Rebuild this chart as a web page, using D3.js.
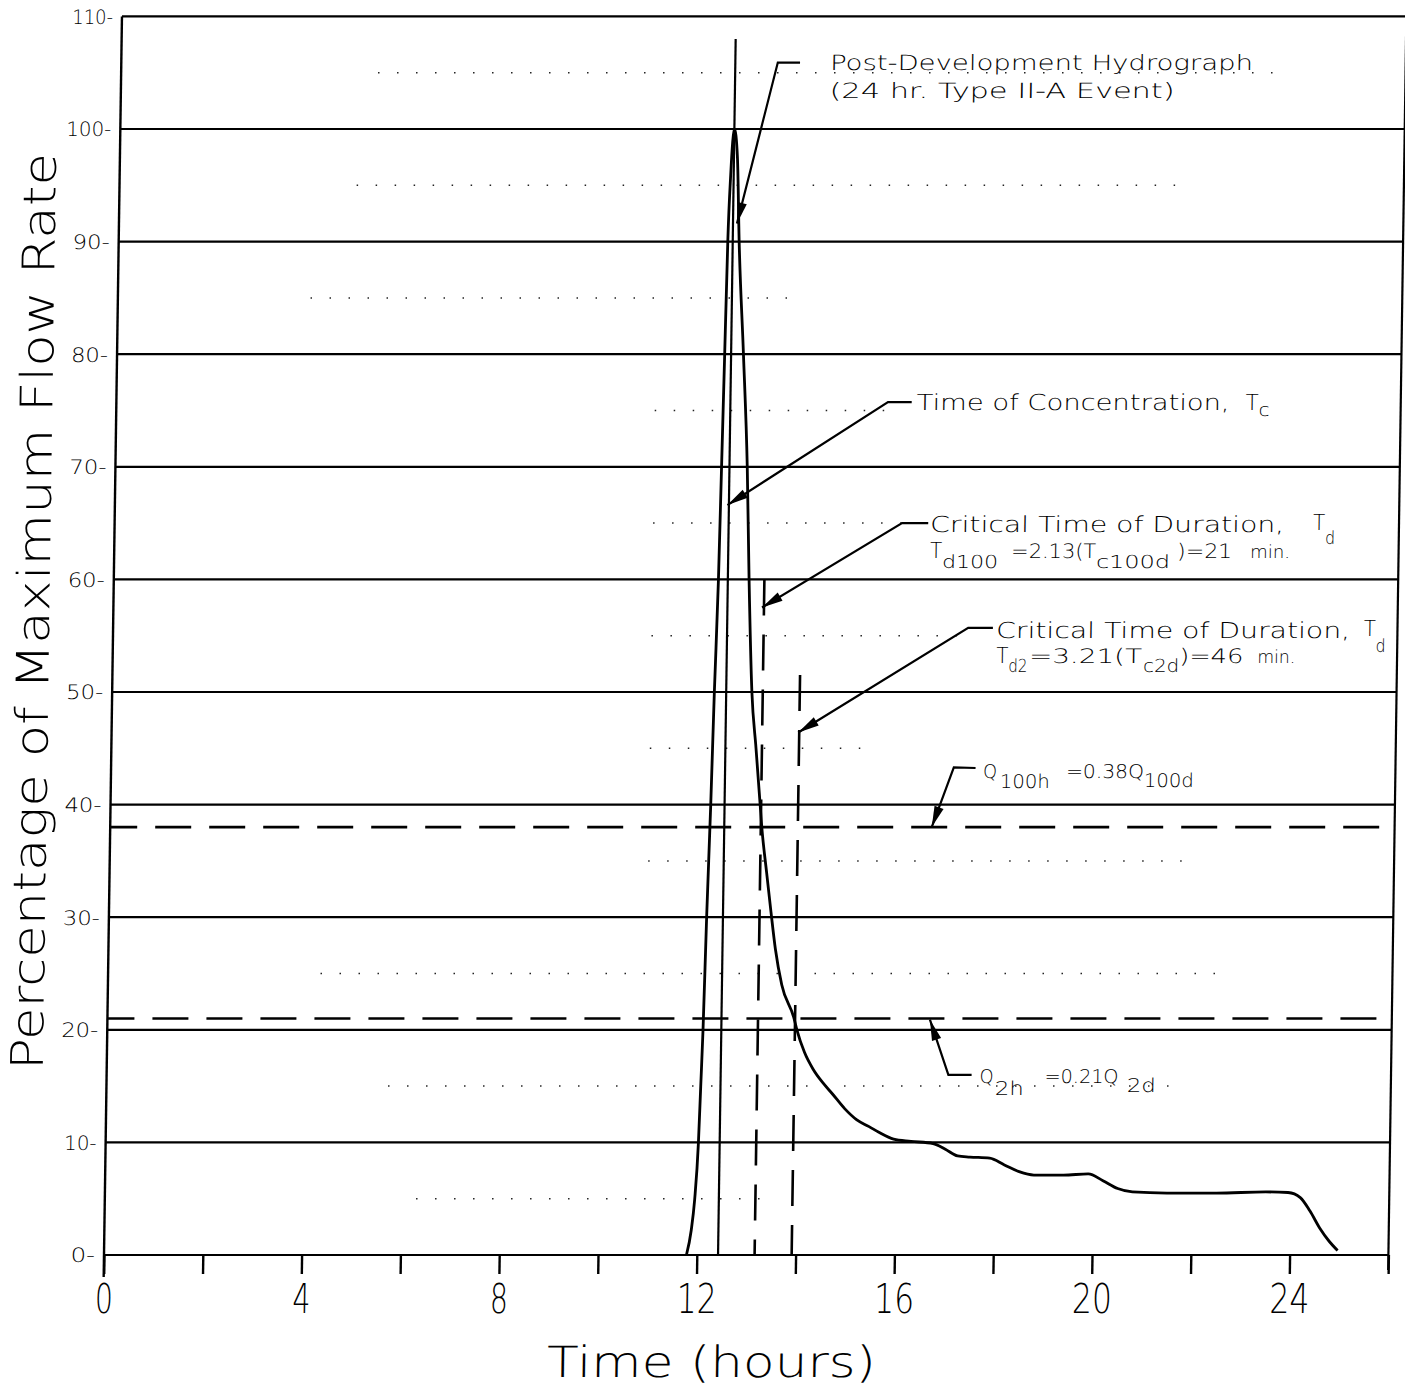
<!DOCTYPE html>
<html><head><meta charset="utf-8">
<script src="https://cdn.jsdelivr.net/npm/d3@7"></script>
<style>
html,body{margin:0;padding:0;background:#fff;}
svg{display:block;}
text{font-family:"DejaVu Sans","Liberation Sans",sans-serif;font-weight:300;fill:#000;}
</style></head><body>
<svg id="chart" width="1405" height="1389"></svg>
<script>
// ---------------- data ----------------
const hydroTime = [11.79,11.88,11.94,12.00,12.03,12.06,12.10,12.15,12.19,12.24,12.27,12.30,12.33,12.37,12.43,
  12.50,12.56,12.68,12.79,12.86,12.95,13.05,13.15,13.19,13.30,13.40,13.50,13.64,13.90,13.96,
  14.12,14.30,14.50,14.70,14.95,15.20,15.45,15.65,15.95,16.30,16.75,17.00,17.25,17.50,17.90,
  18.20,18.50,18.80,19.40,19.90,20.20,20.50,20.80,21.50,22.50,23.50,23.95,24.20,24.40,24.60,24.80,24.97];
const hydroPct = [0,2.2,4.9,10,15,20,30,40,50,60,70,80,90,96,100,
  97.5,90,80,70,60,50,45,40,38,34,30.5,27.2,24,21,20,
  18,16.5,15.3,14.3,13.0,12.0,11.4,10.9,10.3,10.1,9.9,9.4,8.8,8.7,8.6,
  8.0,7.4,7.1,7.1,7.2,6.6,5.9,5.6,5.5,5.5,5.6,5.55,5.1,3.9,2.4,1.2,0.4];

const yTickValues = [0,10,20,30,40,50,60,70,80,90,100,110];
const xTickValues = [0,2,4,6,8,10,12,14,16,18,20,22,24,26];
const xTickLabels = [0,4,8,12,16,20,24];

// faint dotted half-grid rows (percent) and their extent in hours
const halfGridPct  = [105,95,85,75,65,55,45,35,25,15,5];
const halfGridFrom = [5.2,4.8,3.9,10.9,10.9,10.9,10.9,10.9,4.3,5.7,6.3];
const halfGridTo   = [23.4,21.6,13.8,15.6,16.1,17.1,15.3,22.0,22.5,21.8,13.6];

const peakLineTime = 12.43, peakLineTop = 108;          // solid vertical (Tc)
const durationTimes = [13.17, 13.92];                     // dashed verticals (Td100, Td2)
const durationTops  = [60, 51.5];
const ratioLevels   = [38, 21];                           // dashed horizontals (Q100h, Q2h)

// annotation leaders: arrow tip, elbow, end of the short horizontal
const leaderTipT    = [12.51, 12.40, 13.13, 13.90, 16.63, 16.65];
const leaderTipP    = [91.6, 66.6, 57.5, 46.4, 38.0, 20.9];
const leaderElbowT  = [13.29, 15.62, 15.94, 17.31, 17.06, 17.04];
const leaderElbowP  = [105.9, 75.75, 65.0, 55.7, 43.3, 16.0];
const leaderEndT    = [13.74, 16.10, 16.47, 17.81, 17.50, 17.51];
const leaderEndP    = [105.9, 75.75, 65.0, 55.7, 43.25, 16.0];

const xTitle = "Time (hours)";
const yTitle = "Percentage of Maximum Flow Rate";

// ---------------- drawing ----------------
const svg = d3.select("#chart");
const x = d3.scaleLinear().domain([0, 26]).range([104, 104 + 26 * 49.4]);
const y = d3.scaleLinear().domain([0, 110]).range([1255, 16.4]);

// the scanned original is slightly sheared; reproduce it
const k = 0.0145;
const g = svg.append("g")
  .attr("transform", `translate(${k * y(0)},0) skewX(${-Math.atan(k) * 180 / Math.PI})`);

// dotted half grid
g.append("g").selectAll("line").data(halfGridPct).join("line")
  .attr("x1", (d, i) => x(halfGridFrom[i])).attr("x2", (d, i) => x(halfGridTo[i]))
  .attr("y1", d => y(d)).attr("y2", d => y(d))
  .attr("stroke", "#222").attr("stroke-width", 1.5).attr("stroke-dasharray", "1.5,17.5");

// solid grid lines
g.append("g").selectAll("line").data(yTickValues).join("line")
  .attr("x1", x(0)).attr("x2", x(26)).attr("y1", d => y(d)).attr("y2", d => y(d))
  .attr("stroke", "#000").attr("stroke-width", 2.2);

// frame verticals
g.append("line").attr("x1", x(0)).attr("x2", x(0)).attr("y1", y(110)).attr("y2", y(0) + 22)
  .attr("stroke", "#000").attr("stroke-width", 2.4);
g.append("line").attr("x1", x(26)).attr("x2", x(26)).attr("y1", y(110)).attr("y2", y(0) + 15)
  .attr("stroke", "#000").attr("stroke-width", 2.2);

// x axis ticks & labels
const xAxis = g.append("g").attr("transform", `translate(0,${y(0)})`)
  .call(d3.axisBottom(x).tickValues(xTickValues).tickSize(19).tickPadding(10)
    .tickFormat(d => xTickLabels.includes(d) ? String(d) : ""));
xAxis.select(".domain").remove();
xAxis.selectAll(".tick line").attr("stroke", "#000").attr("stroke-width", 2.4);
xAxis.selectAll(".tick text")
  .attr("font-size", 41).attr("font-family", '"DejaVu Sans",sans-serif').attr("font-weight", 300)
  .attr("fill", "#000")
  .each(function (d) {
    const s = String(d);
    if (xTickLabels.includes(d)) d3.select(this).attr("textLength", s.length === 1 ? 18 : 40).attr("lengthAdjust", "spacingAndGlyphs");
  });

// y axis labels
const yAxis = g.append("g").attr("transform", `translate(${x(0)},0)`)
  .call(d3.axisLeft(y).tickValues(yTickValues).tickSize(0).tickPadding(9).tickFormat(d => d + "-"));
yAxis.select(".domain").remove();
yAxis.selectAll(".tick text")
  .attr("font-size", 20).attr("font-family", '"DejaVu Sans",sans-serif').attr("font-weight", 300)
  .attr("fill", "#000").attr("dy", "0.34em")
  .each(function (d) {
    const w = String(d).split("").reduce((a, c) => a + (c === "1" ? 8 : 12.5), 0) + 12;
    d3.select(this).attr("textLength", w).attr("lengthAdjust", "spacingAndGlyphs");
  });

// dashed horizontals
g.append("g").selectAll("line").data(ratioLevels).join("line")
  .attr("x1", x(0)).attr("x2", x(26)).attr("y1", d => y(d)).attr("y2", d => y(d))
  .attr("stroke", "#000").attr("stroke-width", 2.6)
  .attr("stroke-dasharray", "36,18").attr("stroke-dashoffset", 9);

// dashed verticals
g.append("g").selectAll("line").data(durationTimes).join("line")
  .attr("x1", d => x(d)).attr("x2", d => x(d))
  .attr("y1", (d, i) => y(durationTops[i])).attr("y2", y(0))
  .attr("stroke", "#000").attr("stroke-width", 2.6).attr("stroke-dasharray", "36,19");

// solid vertical at peak
g.append("line").attr("x1", x(peakLineTime)).attr("x2", x(peakLineTime))
  .attr("y1", y(peakLineTop)).attr("y2", y(0))
  .attr("stroke", "#000").attr("stroke-width", 2.2);

// hydrograph
const pts = hydroTime.map((t, i) => [t, hydroPct[i]]);
g.append("path").datum(pts)
  .attr("d", d3.line().x(d => x(d[0])).y(d => y(d[1])).curve(d3.curveMonotoneX))
  .attr("fill", "none").attr("stroke", "#000").attr("stroke-width", 2.8).attr("stroke-linejoin", "round");

// leaders with arrowheads
leaderTipT.forEach((t, i) => {
  const tip = [x(t), y(leaderTipP[i])];
  const elb = [x(leaderElbowT[i]), y(leaderElbowP[i])];
  const end = [x(leaderEndT[i]), y(leaderEndP[i])];
  g.append("path").attr("d", d3.line()([tip, elb, end]))
    .attr("fill", "none").attr("stroke", "#000").attr("stroke-width", 2.2);
  const dx = elb[0] - tip[0], dy = elb[1] - tip[1], L = Math.hypot(dx, dy);
  const ux = dx / L, uy = dy / L, len = 21, hw = 4.8;
  const bx = tip[0] + ux * len, by = tip[1] + uy * len;
  g.append("path")
    .attr("d", `M${tip[0]},${tip[1]}L${bx - uy * hw},${by + ux * hw}L${bx + uy * hw},${by - ux * hw}Z`)
    .attr("fill", "#000");
});

// annotation text pieces: [leader index, text, dx, dy, width, size]
const annotText = [
  [0, "Post-Development Hydrograph", 30, 7.4, 423, 21],
  [0, "(24 hr. Type II-A Event)", 30, 35, 345, 21],
  [1, "Time of Concentration,", 5, 8, 313, 22],
  [1, "T", 334, 8, 13, 22],
  [1, "c", 347, 14, 11, 18],
  [2, "Critical Time of Duration,", 2, 9, 354, 22],
  [2, "T", 385, 7, 12, 22],
  [2, "d", 397, 21, 10, 18],
  [2, "T", 2.4, 35, 12, 22],
  [2, "d100", 14.5, 45, 56, 18],
  [2, "=2.13(T", 83.4, 35, 85, 20],
  [2, "c100d", 168.4, 45, 74, 18],
  [2, ")=21", 249.4, 35, 55, 20],
  [2, "min.", 322.4, 35, 40, 18],
  [3, "Critical Time of Duration,", 3.3, 10, 354, 22],
  [3, "T", 371, 8, 12, 22],
  [3, "d", 383, 24, 10, 18],
  [3, "T", 3.8, 35, 12, 22],
  [3, "d2", 16, 44, 19, 18],
  [3, "=3.21(T", 36.5, 35, 113, 20],
  [3, "c2d", 150.8, 44, 36, 18],
  [3, ")=46", 186.8, 35, 64, 20],
  [3, "min.", 264.8, 35, 38, 18],
  [4, "Q", 7.5, 10, 14, 19],
  [4, "100h", 24.5, 20, 50, 19],
  [4, "=0.38Q", 90.5, 10, 78, 19],
  [4, "100d", 168.5, 19, 50, 19],
  [5, "Q", 8, 8, 14, 19],
  [5, "2h", 23.5, 20, 29, 19],
  [5, "=0.21Q", 73, 8, 74, 19],
  [5, "2d", 155.5, 17, 29, 19]
];
const annGroups = d3.groups(annotText, d => d[0]);
g.append("g").selectAll("text").data(annGroups).join("text")
  .each(function ([idx, pieces]) {
    const t = d3.select(this);
    pieces.forEach(p => {
      t.append("tspan")
        .attr("x", x(leaderEndT[idx]) + p[2])
        .attr("y", y(leaderEndP[idx]) + p[3])
        .attr("font-size", p[5])
        .attr("textLength", p[4]).attr("lengthAdjust", "spacingAndGlyphs")
        .text(p[1]);
    });
  });

// axis titles
g.append("text").attr("x", 713).attr("y", 1377).attr("text-anchor", "middle")
  .attr("font-size", 43).attr("textLength", 329).attr("lengthAdjust", "spacingAndGlyphs")
  .text(xTitle);
g.append("text").attr("transform", "translate(40,611.5) rotate(-90)").attr("text-anchor", "middle")
  .attr("font-size", 45).attr("textLength", 917).attr("lengthAdjust", "spacingAndGlyphs")
  .text(yTitle);
</script>
</body></html>
